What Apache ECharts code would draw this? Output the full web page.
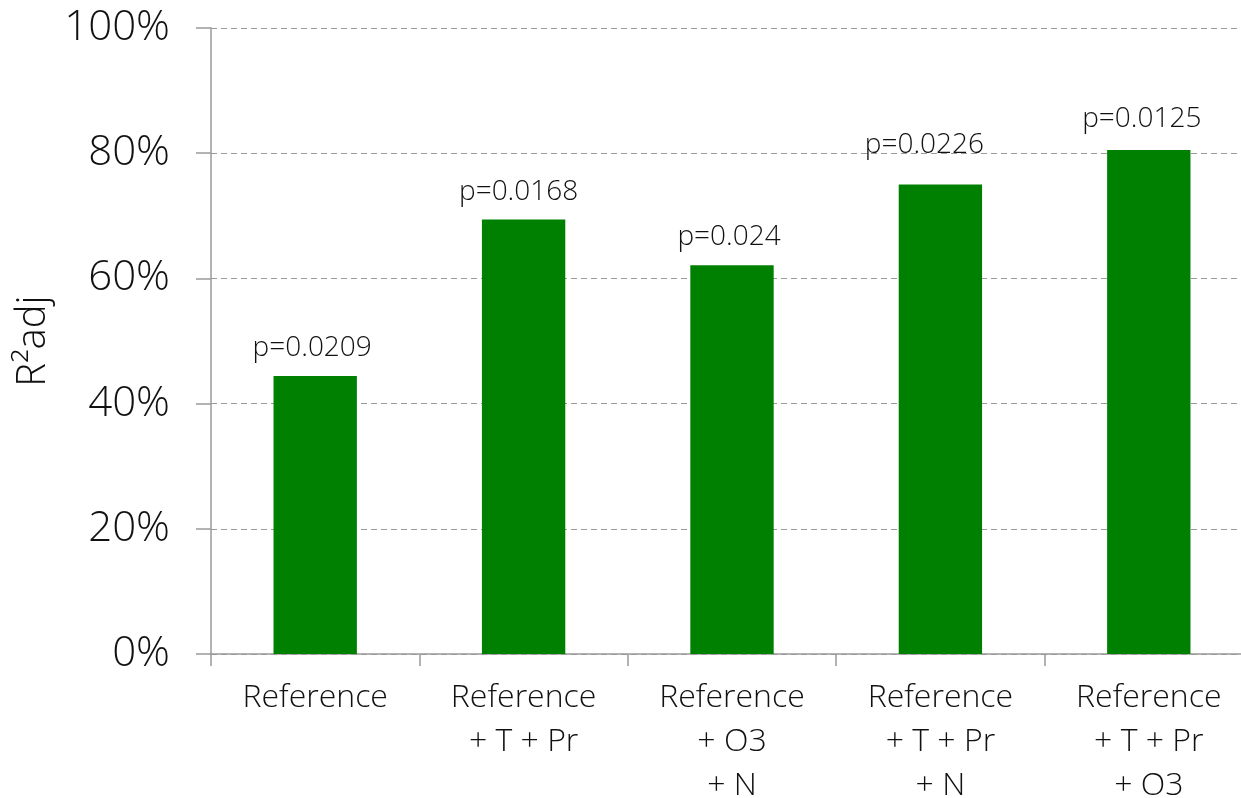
<!DOCTYPE html>
<html>
<head>
<meta charset="utf-8">
<style>
  html, body { margin: 0; padding: 0; background: #fff; }
  #chart { width: 1241px; height: 798px; }
</style>
<script src="https://cdn.jsdelivr.net/npm/echarts@6/dist/echarts.min.js"></script>
</head>
<body>
<div id="chart"></div>
<script>
// Model variants (x-axis categories)
const categories = [
  'Reference',
  'Reference\n+ T + Pr',
  'Reference\n+ O3\n+ N',
  'Reference\n+ T + Pr\n+ N',
  'Reference\n+ T + Pr\n+ O3'
];
// Adjusted R² of each model, in percent
const r2adj = [44.4, 69.4, 62.1, 75.0, 80.5];
// p-value shown above each bar
const pValues = ['0.0209', '0.0168', '0.024', '0.0226', '0.0125'];
// y-axis ticks
const yMin = 0, yMax = 100, yStep = 20;

const FONT = "'Open Sans', 'Lato', sans-serif";
const TEXT = '#111';
const GREY = '#9a9a9a';

// small nudges so the p-value captions sit where they are printed
const labelNudge = [[-3, 0], [-5, 0], [-3, 0], [-16, -11], [-7, -3]];

const chart = echarts.init(document.getElementById('chart'), null, { renderer: 'canvas' });

chart.setOption({
  backgroundColor: '#fff',
  animation: false,
  // the plot runs slightly past the right edge of the canvas
  grid: { left: 211, top: 28, width: 1042, height: 626, containLabel: false, outerBoundsMode: 'none' },
  xAxis: {
    type: 'category',
    data: categories,
    boundaryGap: true,
    axisLine: { lineStyle: { color: GREY, width: 1.5 } },
    axisTick: { show: true, length: 12, inside: false, lineStyle: { color: GREY, width: 1.5 } },
    axisLabel: {
      interval: 0,
      margin: 22,
      color: TEXT,
      fontFamily: FONT,
      fontWeight: 300,
      fontSize: 32,
      lineHeight: 44
    }
  },
  yAxis: {
    type: 'value',
    min: yMin,
    max: yMax,
    interval: yStep,
    name: 'R²adj',
    nameLocation: 'middle',
    nameGap: 148,
    nameRotate: 90,
    nameTextStyle: { color: TEXT, fontFamily: FONT, fontWeight: 300, fontSize: 40 },
    axisLine: { show: true, lineStyle: { color: GREY, width: 1.5 } },
    axisTick: { show: true, length: 15, inside: false, lineStyle: { color: GREY, width: 1.5 } },
    axisLabel: {
      formatter: '{value}%',
      margin: 41,
      color: TEXT,
      fontFamily: FONT,
      fontWeight: 300,
      fontSize: 42
    },
    splitLine: { show: true, lineStyle: { color: GREY, width: 1.2, type: [6, 4] } }
  },
  series: [{
    type: 'bar',
    barWidth: '40%',
    itemStyle: { color: '#008000' },
    data: r2adj.map((v, i) => ({
      value: v,
      label: {
        show: true,
        position: 'top',
        distance: 14,
        offset: labelNudge[i],
        formatter: 'p=' + pValues[i],
        color: TEXT,
        fontFamily: FONT,
        fontWeight: 300,
        fontSize: 28
      }
    }))
  }]
});
</script>
</body>
</html>
